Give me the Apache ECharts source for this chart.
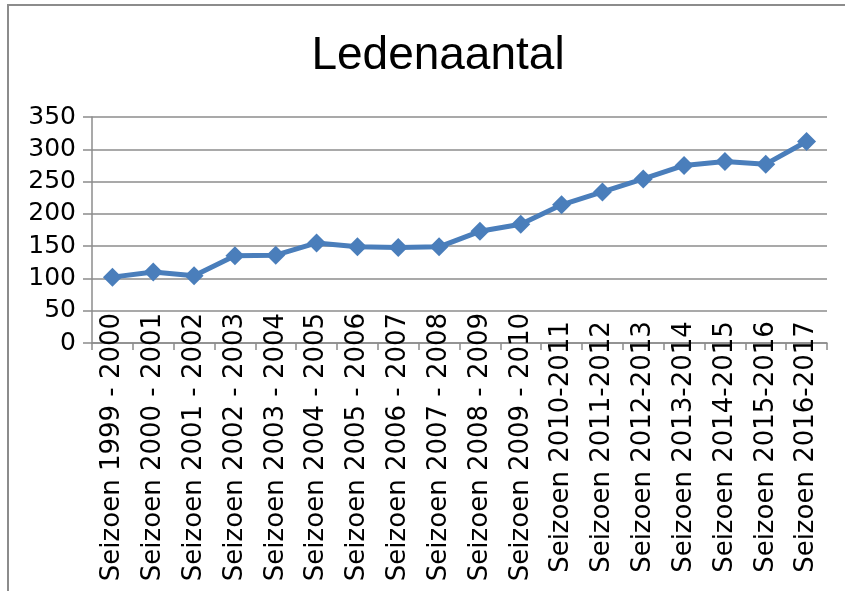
<!DOCTYPE html>
<html>
<head>
<meta charset="utf-8">
<script src="https://cdn.jsdelivr.net/npm/echarts@6/dist/echarts.min.js"></script>
<style>
  html, body { margin: 0; padding: 0; background: #fff; }
  #frame {
    position: absolute; left: 7px; top: 4px; width: 838px; height: 587px;
    border-left: 2px solid #8c8c8c; border-top: 2px solid #8c8c8c;
  }
  #chart { position: absolute; left: 0; top: 0; width: 845px; height: 591px; }
</style>
</head>
<body>
<div id="frame"></div>
<div id="chart"></div>
<script>
const seasons = [
  "Seizoen 1999 - 2000", "Seizoen 2000 - 2001", "Seizoen 2001 - 2002",
  "Seizoen 2002 - 2003", "Seizoen 2003 - 2004", "Seizoen 2004 - 2005",
  "Seizoen 2005 - 2006", "Seizoen 2006 - 2007", "Seizoen 2007 - 2008",
  "Seizoen 2008 - 2009", "Seizoen 2009 - 2010", "Seizoen 2010-2011",
  "Seizoen 2011-2012", "Seizoen 2012-2013", "Seizoen 2013-2014",
  "Seizoen 2014-2015", "Seizoen 2015-2016", "Seizoen 2016-2017"
];
const members = [102, 110, 104, 135, 136, 155, 149, 148, 149, 173, 184, 214, 234, 254, 275, 281, 277, 312];
const yMin = 0;
const yMax = 350;
const yStep = 50;

const chart = echarts.init(document.getElementById("chart"));
const font = "DejaVu Sans";

chart.setOption({
  animation: false,
  title: {
    text: "Ledenaantal",
    left: 433,
    top: 28,
    textAlign: "center",
    textStyle: { fontFamily: "Liberation Sans", fontWeight: "normal", fontSize: 46, color: "#000" }
  },
  grid: { left: 92, right: 18, top: 117, bottom: 248 },
  xAxis: {
    type: "category",
    data: seasons,
    boundaryGap: true,
    axisLine: { lineStyle: { color: "#8c8c8c", width: 1.5 } },
    axisTick: { show: true, length: 7, interval: 0, lineStyle: { color: "#8c8c8c", width: 1.5 } },
    axisLabel: {
      interval: 0,
      rotate: 90,
      align: "center",
      verticalAlign: "middle",
      margin: 104,
      fontFamily: font,
      fontSize: 26,
      color: "#000"
    }
  },
  yAxis: {
    type: "value",
    min: yMin,
    max: yMax,
    interval: yStep,
    axisLine: { show: true, lineStyle: { color: "#8c8c8c", width: 1.5 } },
    axisTick: { show: true, length: 9, lineStyle: { color: "#8c8c8c", width: 1.5 } },
    splitLine: { lineStyle: { color: "#8c8c8c", width: 1.5 } },
    axisLabel: { fontFamily: font, fontSize: 25, color: "#000", margin: 16 }
  },
  series: [{
    type: "line",
    data: members,
    symbol: "diamond",
    symbolSize: 19,
    lineStyle: { color: "#4a7ebb", width: 5 },
    itemStyle: { color: "#4a7ebb" }
  }]
});
</script>
</body>
</html>
